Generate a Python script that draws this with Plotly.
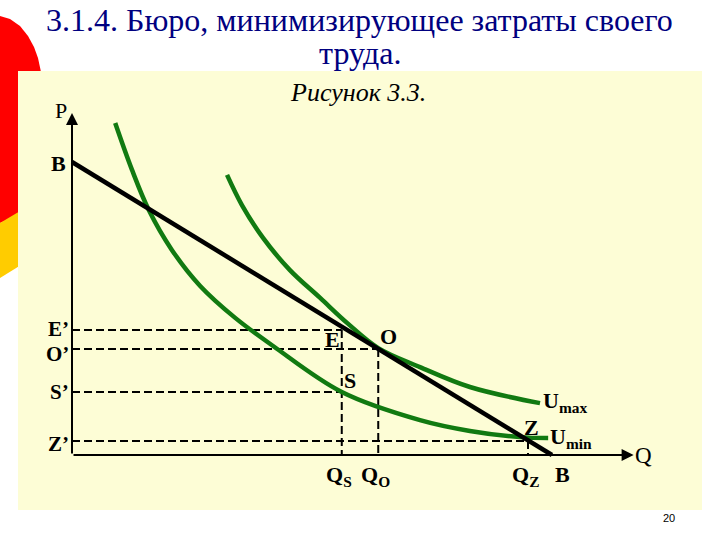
import plotly.graph_objects as go

# ---------------- data ----------------
# budget line B-B (P intercept, Q intercept)
budget_q = [0, 10]
budget_p = [10, 0]

# indifference curves
umin_q = [0.9, 1.25, 1.6, 2.08, 2.67, 3.4, 4.19, 5.62, 7.25, 8.29, 9.33, 9.92]
umin_p = [11.33, 9.73, 8.36, 7.00, 5.77, 4.68, 3.72, 2.15, 1.19, 0.82, 0.61, 0.58]

umax_q = [3.23, 3.54, 3.98, 4.54, 5.17, 5.73, 6.38, 7.25, 8.29, 9.75]
umax_p = [9.56, 8.53, 7.41, 6.31, 5.36, 4.51, 3.65, 3.00, 2.32, 1.77]

# marked points
point_names = ["E", "O", "S", "Z"]
point_q = [5.62, 6.38, 5.62, 9.5]
point_p = [4.27, 3.62, 2.15, 0.48]
p_tick_labels = ["E’", "O’", "S’", "Z’"]
q_tick_labels = ["Q<sub>S</sub>", "Q<sub>O</sub>", None, "Q<sub>Z</sub>"]

axis_q_max = 11.7
axis_p_max = 11.67

title_lines = ["3.1.4. Бюро, минимизирующее затраты своего", "труда."]
subtitle = "Рисунок 3.3."
page_number = "20"

# ---------------- figure ----------------
W, H = 720, 540
GREEN = "#117a11"
SERIF = "Liberation Serif, Times New Roman, serif"


def px(x, y):
    """pixel -> paper coordinates (for slide decorations only)"""
    return x / W, 1 - y / H


fig = go.Figure()

# dashed guide lines
dx, dy = [], []
for n, q, p in zip(point_names, point_q, point_p):
    dx += [0, q, None]
    dy += [p, p, None]
    if n != "S":
        dx += [q, q, None]
        dy += [p, 0, None]
fig.add_trace(go.Scatter(x=dx, y=dy, mode="lines",
                         line=dict(color="black", width=2, dash="8px,4px"),
                         hoverinfo="skip", showlegend=False))

# indifference curves
fig.add_trace(go.Scatter(x=umin_q, y=umin_p, mode="lines",
                         line=dict(color=GREEN, width=4.5, shape="spline", smoothing=1),
                         showlegend=False))
fig.add_trace(go.Scatter(x=umax_q, y=umax_p, mode="lines",
                         line=dict(color=GREEN, width=4.5, shape="spline", smoothing=1),
                         showlegend=False))

# budget line
fig.add_trace(go.Scatter(x=budget_q, y=budget_p, mode="lines",
                         line=dict(color="black", width=4.5), showlegend=False))

ann = []
# axes with arrows
ann.append(dict(x=0, y=axis_p_max, ax=0, ay=0, xref="x", yref="y", axref="x", ayref="y",
                showarrow=True, arrowhead=2, arrowsize=1.2, arrowwidth=2, arrowcolor="black", text=""))
ann.append(dict(x=axis_q_max, y=0, ax=0, ay=0, xref="x", yref="y", axref="x", ayref="y",
                showarrow=True, arrowhead=2, arrowsize=1.2, arrowwidth=2, arrowcolor="black", text=""))


def label(text, x, y, size=22, xs=0, ys=0, xa="center", ya="middle", bold=True):
    t = f"<b>{text}</b>" if bold else text
    ann.append(dict(x=x, y=y, xref="x", yref="y", text=t, showarrow=False,
                    xanchor=xa, yanchor=ya, xshift=xs, yshift=ys,
                    font=dict(family=SERIF, size=size, color="black")))


label("P", 0, axis_p_max, size=22, xs=-11, ys=3, bold=False)
label("Q", axis_q_max, 0, size=23, xa="left", xs=-1, ys=0, bold=False)
label("B", 0, budget_p[0], xa="right", xs=-4, ys=-1)
label("B", budget_q[1], 0, ya="top", xs=10, ys=-5)

pt_shift = {"E": (-9, -10), "O": (10, 12), "S": (8, 12), "Z": (3, 13)}
p_tick_shift = {"E": 1, "O": -5, "S": 0, "Z": -3}
for n, q, p, pl, ql in zip(point_names, point_q, point_p, p_tick_labels, q_tick_labels):
    label(pl, 0, p, size=21, xa="right", xs=-1, ys=p_tick_shift[n])
    if ql:
        label(ql, q, 0, ya="top", xs=-3, ys=-5)
    sx, sy = pt_shift[n]
    label(n, q, p, xs=sx, ys=sy)

label("U<sub>max</sub>", umax_q[-1], umax_p[-1], xa="left", xs=1, ys=1)
label("U<sub>min</sub>", umin_q[-1], umin_p[-1], xa="left", xs=0, ys=0)

# title & captions (paper coordinates)
x0, y0 = px(359, 20)
ann.append(dict(x=x0, y=y0, xref="paper", yref="paper", text=title_lines[0], showarrow=False,
                xanchor="center", yanchor="middle", font=dict(family=SERIF, size=32, color="#000080")))
x0, y0 = px(360, 53)
ann.append(dict(x=x0, y=y0, xref="paper", yref="paper", text=title_lines[1], showarrow=False,
                xanchor="center", yanchor="middle", font=dict(family=SERIF, size=32, color="#000080")))
x0, y0 = px(358, 92)
ann.append(dict(x=x0, y=y0, xref="paper", yref="paper", text=f"<i>{subtitle}</i>", showarrow=False,
                xanchor="center", yanchor="middle", font=dict(family=SERIF, size=26, color="black")))
x0, y0 = px(669, 518)
ann.append(dict(x=x0, y=y0, xref="paper", yref="paper", text=page_number, showarrow=False,
                xanchor="center", yanchor="middle", font=dict(family="Liberation Sans, Arial", size=11, color="black")))


# slide decorations
def path(points):
    s = ""
    for i, (a, b) in enumerate(points):
        xp, yp = px(a, b)
        s += ("M " if i == 0 else " L ") + f"{xp:.5f},{yp:.5f}"
    return s + " Z"


red_pts = [(0, 16), (10, 19), (20, 26), (28, 36), (34, 47), (38, 58), (41, 72), (42, 205), (0, 223)]
yel_pts = [(0, 223), (42, 198), (42, 252), (0, 278)]
shapes = [
    dict(type="path", xref="paper", yref="paper", path=path(red_pts), fillcolor="#ff0000",
         line=dict(width=0), layer="below"),
    dict(type="path", xref="paper", yref="paper", path=path(yel_pts), fillcolor="#ffcc00",
         line=dict(width=0), layer="below"),
    dict(type="rect", xref="paper", yref="paper", x0=18 / W, x1=702 / W, y0=1 - 510 / H, y1=1 - 71 / H,
         fillcolor="#fdfdd6", line=dict(width=0), layer="below"),
]

fig.update_layout(
    width=W, height=H, autosize=False,
    margin=dict(l=0, r=0, t=0, b=0, pad=0),
    paper_bgcolor="white", plot_bgcolor="rgba(0,0,0,0)",
    xaxis=dict(range=[-72 / 48, (W - 72) / 48], visible=False, fixedrange=True),
    yaxis=dict(range=[-(H - 455) / 29.3, 455 / 29.3], visible=False, fixedrange=True),
    annotations=ann, shapes=shapes, showlegend=False,
)

fig.write_html("out.html", config={"displayModeBar": False},
               post_script="document.body.style.margin='0';document.body.style.padding='0';")
